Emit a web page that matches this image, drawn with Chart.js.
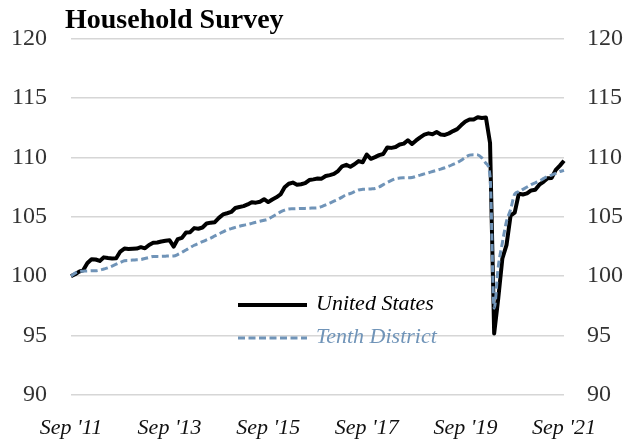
<!DOCTYPE html>
<html>
<head>
<meta charset="utf-8">
<script src="https://cdn.jsdelivr.net/npm/chart.js@4"></script>
<style>
  html, body { margin: 0; padding: 0; background: #fff; }
  #wrap { width: 636px; height: 443px; }
</style>
</head>
<body>
<div id="wrap"><canvas id="myChartHousehold"></canvas></div>
<script>
// index, Sep 2011 = 100
const tickLabels = ["Sep '11", "Sep '13", "Sep '15", "Sep '17", "Sep '19", "Sep '21"];

const usIndex = [
  100.0, 100.16, 100.38, 100.51,
  101.11, 101.42, 101.40, 101.28, 101.58, 101.52, 101.49, 101.51, 102.07, 102.32, 102.28, 102.30,
  102.32, 102.44, 102.34, 102.62, 102.80, 102.83, 102.91, 102.97, 103.02, 102.49, 103.12, 103.22,
  103.67, 103.70, 104.04, 103.99, 104.09, 104.43, 104.50, 104.54, 104.90, 105.19, 105.29, 105.40,
  105.73, 105.82, 105.89, 106.03, 106.22, 106.18, 106.26, 106.47, 106.23, 106.45, 106.63, 106.87,
  107.47, 107.77, 107.87, 107.69, 107.73, 107.82, 108.08, 108.14, 108.21, 108.20, 108.42, 108.50,
  108.60, 108.84, 109.24, 109.36, 109.20, 109.41, 109.68, 109.58, 110.23, 109.87, 110.01, 110.18,
  110.27, 110.83, 110.79, 110.86, 111.07, 111.15, 111.43, 111.12, 111.42, 111.68, 111.91, 112.01,
  111.94, 112.12, 111.92, 111.88, 112.01, 112.20, 112.37, 112.71, 113.01, 113.18, 113.18, 113.37,
  113.30, 113.34, 111.20, 95.18, 98.13, 101.50, 102.61, 105.10, 105.34, 106.94, 106.87, 106.96,
  107.21, 107.26, 107.69, 107.93, 108.24, 108.26, 108.94, 109.30, 109.71
];

const tenthIndex = [
  100.0, 100.25, 100.40, 100.42,
  100.43, 100.45, 100.45, 100.50, 100.60, 100.70, 100.85, 101.00, 101.15, 101.30, 101.33, 101.35,
  101.38, 101.40, 101.48, 101.57, 101.65, 101.66, 101.67, 101.68, 101.69, 101.70, 101.82, 102.00,
  102.20, 102.40, 102.60, 102.75, 102.90, 103.05, 103.20, 103.38, 103.55, 103.72, 103.90, 104.00,
  104.10, 104.20, 104.28, 104.35, 104.44, 104.53, 104.62, 104.70, 104.80, 105.00, 105.20, 105.40,
  105.55, 105.65, 105.66, 105.67, 105.69, 105.70, 105.71, 105.73, 105.75, 105.85, 106.00, 106.15,
  106.30, 106.45, 106.65, 106.85, 106.95, 107.10, 107.25, 107.30, 107.32, 107.34, 107.37, 107.50,
  107.70, 107.88, 108.05, 108.20, 108.25, 108.27, 108.28, 108.30, 108.40, 108.50, 108.60, 108.70,
  108.80, 108.90, 109.00, 109.12, 109.25, 109.40, 109.55, 109.75, 110.00, 110.18, 110.22, 110.20,
  109.95, 109.50, 108.40, 97.30, 100.80, 102.80, 104.60, 105.60, 106.90, 107.10, 107.30, 107.50,
  107.70, 107.85, 108.00, 108.20, 108.40, 108.50, 108.65, 108.80, 108.90
];

const monthNames = ['Jan', 'Feb', 'Mar', 'Apr', 'May', 'Jun', 'Jul', 'Aug', 'Sep', 'Oct', 'Nov', 'Dec'];
const months = [];
for (let i = 0; i < usIndex.length; i++) {
  const m = (8 + i) % 12;
  const y = 2011 + Math.floor((8 + i) / 12);
  months.push(monthNames[m] + ' ' + y);
}

const usColor = '#000000';
const tenthColor = '#7094b8';
const serif = "'Liberation Serif', 'DejaVu Serif', serif";

// title + legend drawn inside the plot like the original
const overlay = {
  id: 'overlay',
  afterDraw(chart) {
    const c = chart.ctx;
    c.save();
    c.fillStyle = '#000';
    c.font = 'bold 28px ' + serif;
    c.textBaseline = 'alphabetic';
    c.textAlign = 'left';
    c.fillText('Household Survey', 65, 28);

    c.lineCap = 'butt';
    c.strokeStyle = usColor;
    c.lineWidth = 4;
    c.setLineDash([]);
    c.beginPath();
    c.moveTo(238, 305);
    c.lineTo(307, 305);
    c.stroke();

    c.strokeStyle = tenthColor;
    c.lineWidth = 3;
    c.setLineDash([7, 3.5]);
    c.beginPath();
    c.moveTo(238, 338);
    c.lineTo(307, 338);
    c.stroke();
    c.setLineDash([]);

    c.font = 'italic 22px ' + serif;
    c.textBaseline = 'middle';
    c.fillStyle = usColor;
    c.fillText('United States', 316, 304);
    c.fillStyle = tenthColor;
    c.fillText('Tenth District', 316, 337);
    c.restore();
  }
};

const ctx = document.getElementById('myChartHousehold');

new Chart(ctx, {
  type: 'line',
  data: {
    labels: months,
    datasets: [
      {
        label: 'United States',
        data: usIndex,
        borderColor: usColor,
        backgroundColor: usColor,
        borderWidth: 4,
        borderJoinStyle: 'round',
        pointRadius: 0,
        tension: 0,
        order: 1,
        yAxisID: 'y'
      },
      {
        label: 'Tenth District',
        data: tenthIndex,
        borderColor: tenthColor,
        backgroundColor: tenthColor,
        borderWidth: 3,
        borderDash: [7, 3.5],
        pointRadius: 0,
        cubicInterpolationMode: 'monotone',
        order: 0,
        yAxisID: 'y'
      }
    ]
  },
  options: {
    responsive: true,
    maintainAspectRatio: false,
    animation: false,
    layout: { padding: { top: 38, left: 0, right: 0, bottom: 0 } },
    plugins: {
      legend: { display: false },
      title: { display: false },
      tooltip: { enabled: false }
    },
    scales: {
      x: {
        type: 'category',
        offset: false,
        grid: { display: false },
        border: { display: false },
        ticks: {
          autoSkip: false,
          maxRotation: 0,
          padding: 12,
          color: '#111',
          font: { family: serif, size: 22, style: 'italic' },
          callback: (val, i) => (i % 24 === 0 ? tickLabels[i / 24] : null)
        },
        afterFit: (s) => { s.height = 48; }
      },
      y: {
        position: 'left',
        min: 90,
        max: 120,
        grid: { color: '#d6d6d6', lineWidth: 1.5, drawTicks: false },
        border: { display: false },
        ticks: {
          stepSize: 5,
          padding: 24,
          color: '#333',
          font: { family: serif, size: 24 }
        },
        afterFit: (s) => { s.width = 71; }
      },
      y2: {
        position: 'right',
        min: 90,
        max: 120,
        grid: { display: false, drawTicks: false },
        border: { display: false },
        ticks: {
          stepSize: 5,
          padding: 23,
          color: '#333',
          font: { family: serif, size: 24 }
        },
        afterFit: (s) => { s.width = 72; }
      }
    }
  },
  plugins: [overlay]
});
</script>
</body>
</html>
